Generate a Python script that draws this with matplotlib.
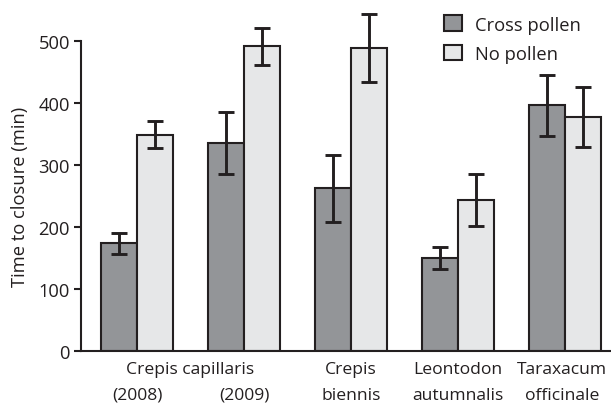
import matplotlib
matplotlib.use("Agg")
import matplotlib.pyplot as plt
from matplotlib.patches import Patch
import numpy as np

plt.rcParams['font.family'] = ['Open Sans', 'DejaVu Sans']

groups = ["Crepis capillaris\n(2008)", "Crepis capillaris\n(2009)", "Crepis\nbiennis",
          "Leontodon\nautumnalis", "Taraxacum\nofficinale"]
cross = [174, 335, 262, 150, 396]
cross_err = [17, 50, 54, 18, 49]
nopollen = [349, 491, 488, 243, 377]
nopollen_err = [22, 30, 55, 42, 48]
yticks = [0, 100, 200, 300, 400, 500]

ink = "#231f20"
c_cross = "#939598"
c_no = "#e6e7e8"
fs = 13.2
fsx = 12.6

fig = plt.figure(figsize=(6.11, 4.06), dpi=100)
W, H = 611, 406
ax = fig.add_axes([81 / W, 1 - 352 / H, (611 - 81) / W, (352 - 4) / H])

x = np.arange(len(groups))
bw = 0.336
ax.bar(x - bw / 2, cross, bw, color=c_cross, edgecolor=ink, linewidth=1.5, zorder=2)
ax.bar(x + bw / 2, nopollen, bw, color=c_no, edgecolor=ink, linewidth=1.5, zorder=2)
ax.errorbar(x - bw / 2, cross, yerr=cross_err, fmt='none', ecolor=ink, elinewidth=2.1,
            capsize=6, capthick=2.1, zorder=3)
ax.errorbar(x + bw / 2, nopollen, yerr=nopollen_err, fmt='none', ecolor=ink, elinewidth=2.1,
            capsize=6, capthick=2.1, zorder=3)

ax.set_xlim(-0.523, 4.43)
ax.set_ylim(0, 561)
for s in ['top', 'right']:
    ax.spines[s].set_visible(False)
ax.spines['left'].set_bounds(0, 500)
ax.spines['left'].set_linewidth(1.5)
ax.spines['bottom'].set_linewidth(1.5)
ax.spines['left'].set_color(ink)
ax.spines['bottom'].set_color(ink)
ax.set_yticks(yticks)
ax.set_yticklabels([str(t) for t in yticks], fontsize=fs, color=ink)
ax.tick_params(axis='y', direction='out', length=5, width=1.5, color=ink, pad=3)
ax.set_xticks([])
ax.set_ylabel("Time to closure (min)", fontsize=fs, color=ink, labelpad=7, y=250 / 561)

# x labels
lines = [g.split("\n") for g in groups]
tr = ax.get_xaxis_transform()
y1 = -(370 - 352) / 348
y2 = -(396 - 352) / 348
xpos = [x[0], x[1], x[2], x[3], x[4] - 0.03]
ax.text((x[0] + x[1]) / 2, y1, "Crepis capillaris", transform=tr,
        ha='center', va='center', fontsize=fsx, color=ink)
for i in range(2):
    ax.text(xpos[i], y2, lines[i][1], transform=tr,
            ha='center', va='center', fontsize=fsx, color=ink)
for i in range(2, len(groups)):
    ax.text(xpos[i], y1, lines[i][0], transform=tr,
            ha='center', va='center', fontsize=fsx, color=ink)
    ax.text(xpos[i], y2, lines[i][1], transform=tr,
            ha='center', va='center', fontsize=fsx, color=ink)

handles = [Patch(facecolor=c_cross, edgecolor=ink, linewidth=1.5, label="Cross pollen"),
           Patch(facecolor=c_no, edgecolor=ink, linewidth=1.5, label="No pollen")]
fig.legend(handles=handles, loc='upper left', bbox_to_anchor=(437 / W, 1 - 9 / H),
           frameon=False, fontsize=fs, handlelength=0.95, handleheight=0.95,
           handletextpad=0.7, labelspacing=0.6, borderaxespad=0, labelcolor=ink)

fig.savefig("out.png", dpi=100)
